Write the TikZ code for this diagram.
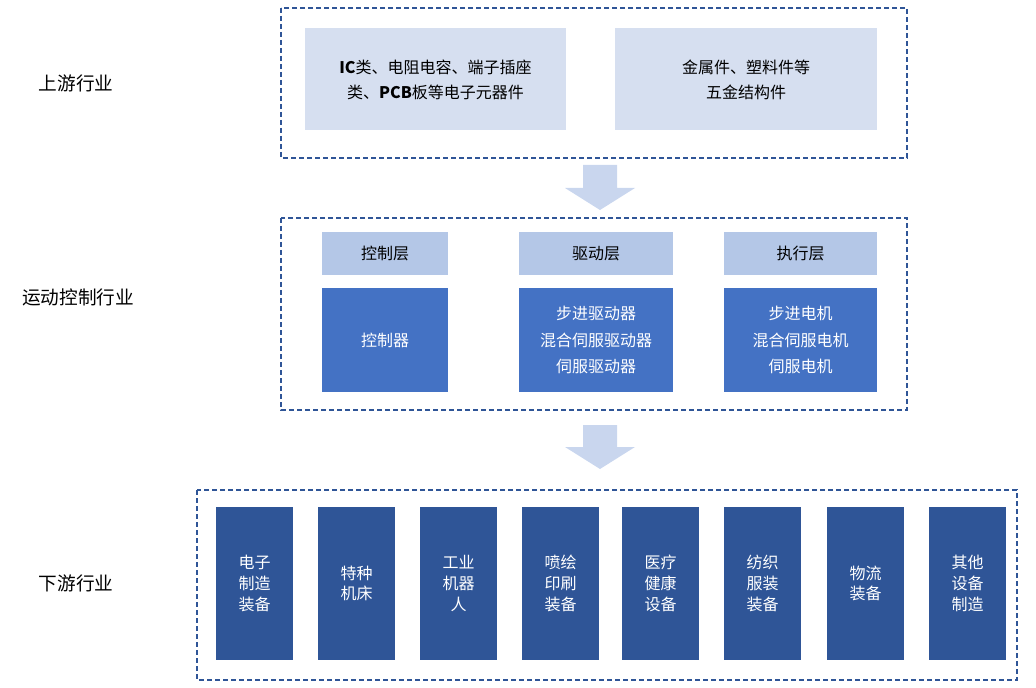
\documentclass[tikz,border=0pt]{standalone}
\usepackage{fontspec}
\setmainfont{Noto Sans CJK SC}
\begin{document}
\begin{tikzpicture}[x=0.75pt,y=-0.75pt,
  frame/.style={dashed,line width=1pt,dash pattern=on 4pt off 2pt},
  light/.style={fill=lightbg,draw=none,align=center,font=\fontsize{12}{19}\selectfont},
  head/.style={fill=headbg,draw=none,align=center},
  body/.style={fill=bodybg,draw=none,align=center,text=white,font=\fontsize{12}{20}\selectfont},
  dark/.style={fill=darkbg,draw=none,align=center,text=white,font=\fontsize{12}{15.5}\selectfont},
  lab/.style={font=\fontsize{14}{17}\selectfont},
  arr/.style={fill=arrbg,draw=none}]
\definecolor{lightbg}{HTML}{D6DFF0}
\definecolor{headbg}{HTML}{B4C7E7}
\definecolor{bodybg}{HTML}{4472C4}
\definecolor{darkbg}{HTML}{2F5597}
\definecolor{arrbg}{HTML}{C9D6EE}
\definecolor{framec}{HTML}{2F5597}
\useasboundingbox (0,0) rectangle (1036,688);
% frames
\draw[frame,draw=framec] (281,8) rectangle (907,158);
\draw[frame,draw=framec] (281,218) rectangle (907,410);
\draw[frame,draw=framec] (197,490) rectangle (1017,680);
% labels
\node[lab] (l1) at (76,83) {上游行业};
\node[lab] (l2) at (78,297) {运动控制行业};
\node[lab] (l3) at (76,583) {下游行业};
% top
\path[light] (305,28) rectangle (566,130);
\node[light,fill=none] (u1) at (435.5,80) {\textbf{IC}类、电阻电容、端子插座\\类、\textbf{PCB}板等电子元器件};
\path[light] (615,28) rectangle (877,130);
\node[light,fill=none] (u2) at (746,80) {金属件、塑料件等\\五金结构件};
% arrows
\path[arr] (583,165) -- (617,165) -- (617,188) -- (635,188) -- (600,210) -- (565,188) -- (583,188) -- cycle;
\path[arr] (583,425) -- (617,425) -- (617,447) -- (635,447) -- (600,469) -- (565,447) -- (583,447) -- cycle;
% middle
\foreach \a/\b/\t/\n in {322/448/控制层/h1,519/673/驱动层/h2,724/877/执行层/h3}{
  \path[head] (\a,232) rectangle (\b,275);
  \node[font=\fontsize{12}{15}\selectfont] (\n) at ({(\a+\b)/2},253.5) {\t};
}
\foreach \a/\b in {322/448,519/673,724/877}{\path[body] (\a,288) rectangle (\b,392);}
\node[body,fill=none] (b1) at (385,340) {控制器};
\node[body,fill=none] (b2) at (596,340) {步进驱动器\\混合伺服驱动器\\伺服驱动器};
\node[body,fill=none] (b3) at (800.5,340) {步进电机\\混合伺服电机\\伺服电机};
% bottom
\foreach \x/\t/\n in {216/电子\\制造\\装备/d1,318/特种\\机床/d2,420/工业\\机器\\人/d3,522/喷绘\\印刷\\装备/d4,622/医疗\\健康\\设备/d5,724/纺织\\服装\\装备/d6,827/物流\\装备/d7,929/其他\\设备\\制造/d8}{
  \path[dark] (\x,507) rectangle (\x+77,660);
  \node[dark,fill=none] (\n) at (\x+38.5,583.5) {\t};
}
\end{tikzpicture}
\end{document}
